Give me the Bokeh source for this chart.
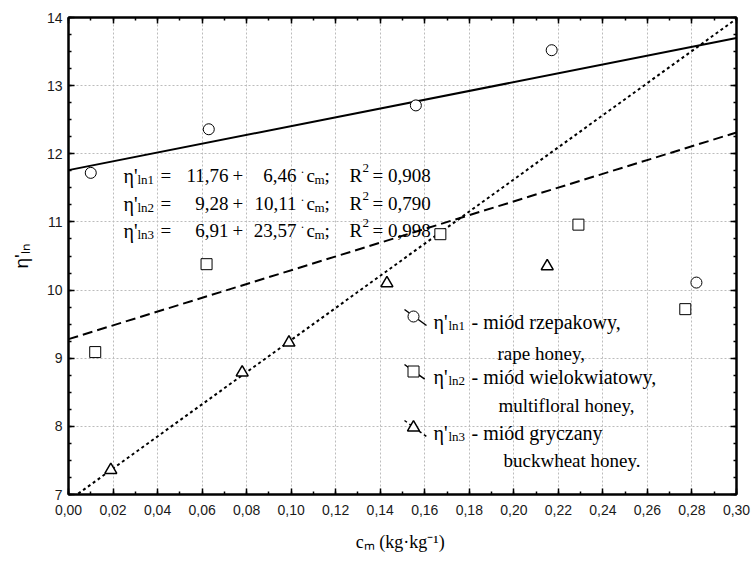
import numpy as np
from bokeh.plotting import figure
from bokeh.models import Label, FixedTicker, LinearAxis, Range1d
from bokeh.embed import file_html
from bokeh.resources import INLINE

# ---------------- data ----------------
x_ticks = [0.00, 0.02, 0.04, 0.06, 0.08, 0.10, 0.12, 0.14, 0.16, 0.18, 0.20, 0.22, 0.24, 0.26, 0.28, 0.30]
x_tick_labels = ["0,00", "0,02", "0,04", "0,06", "0,08", "0,10", "0,12", "0,14", "0,16", "0,18",
                 "0,20", "0,22", "0,24", "0,26", "0,28", "0,30"]
y_ticks = [7, 8, 9, 10, 11, 12, 13, 14]
y_tick_labels = ["7", "8", "9", "10", "11", "12", "13", "14"]

rape_x = [0.010, 0.063, 0.156, 0.217, 0.282]
rape_y = [11.72, 12.36, 12.71, 13.52, 10.11]
multi_x = [0.012, 0.062, 0.167, 0.229, 0.277]
multi_y = [9.09, 10.38, 10.82, 10.96, 9.72]
buck_x = [0.019, 0.078, 0.099, 0.143, 0.215]
buck_y = [7.36, 8.79, 9.23, 10.10, 10.35]

intercepts = [11.76, 9.28, 6.91]
slopes = [6.46, 10.11, 23.57]
r2_values = [0.908, 0.790, 0.998]

legend_pl = ["- miód rzepakowy,", "- miód wielokwiatowy,", "- miód gryczany"]
legend_en = ["rape honey,", "multifloral honey,", "buckwheat honey."]

x_title = "c\u2098  (kg\u00b7kg\u207b\u00b9)"
y_title = "\u03b7'\u2097\u2099"

# ---------------- layout ----------------
XMIN, XMAX, YMIN, YMAX = 0.0, 0.30, 7.0, 14.0
FL, FT, FW, FH = 68, 17, 668, 477
SERIF = "Liberation Serif"
SANS = "Liberation Sans"


def X(px):
    return (px - FL) / FW * (XMAX - XMIN) + XMIN


def Y(py):
    return YMAX - (py - FT) / FH * (YMAX - YMIN)


def fmt(v, d=2):
    return f"{v:.{d}f}".replace(".", ",")


p = figure(frame_width=FW, frame_height=FH,
           x_range=Range1d(XMIN, XMAX), y_range=Range1d(YMIN, YMAX),
           output_backend="svg", toolbar_location=None,
           min_border_left=FL, min_border_top=FT,
           min_border_right=753 - FL - FW, min_border_bottom=563 - FT - FH,
           background_fill_color=None, border_fill_color=None,
           x_axis_location=None, y_axis_location=None)
p.outline_line_color = "black"
p.outline_line_width = 2

x_minor = list(np.round(np.arange(0.0, 0.3001, 0.01), 3))
y_minor = list(np.round(np.arange(7.0, 14.001, 0.25), 3))
xt = FixedTicker(ticks=x_ticks, minor_ticks=x_minor)
yt = FixedTicker(ticks=y_ticks, minor_ticks=y_minor)

# default (hidden-axis) grids restyled to the reference look
p.xgrid.ticker = xt
p.ygrid.ticker = yt
for g in list(p.xgrid) + list(p.ygrid):
    g.grid_line_color = "#bcbcbc"
    g.grid_line_dash = "2 2"
    g.grid_line_width = 1


def style_axis(ax, show_labels):
    ax.axis_line_width = 2
    ax.axis_line_color = "black"
    ax.major_tick_in = 6
    ax.major_tick_out = 0
    ax.minor_tick_in = 3
    ax.minor_tick_out = 0
    ax.major_tick_line_width = 1.5
    ax.minor_tick_line_width = 1.5
    ax.major_tick_line_color = "black"
    ax.minor_tick_line_color = "black"
    if show_labels:
        ax.major_label_text_font = SANS
        ax.major_label_text_font_size = "14px"
        ax.major_label_text_color = "#1a1a1a"
    else:
        ax.major_label_text_font_size = "0px"


bottom = LinearAxis(ticker=xt, major_label_overrides={t: l for t, l in zip(x_ticks, x_tick_labels)})
style_axis(bottom, True)
bottom.major_label_standoff = 10
bottom.axis_label = x_title
bottom.axis_label_text_font = SERIF
bottom.axis_label_text_font_style = "normal"
bottom.axis_label_text_font_size = "18px"
bottom.axis_label_text_color = "black"
bottom.axis_label_standoff = 14
p.add_layout(bottom, "below")

left = LinearAxis(ticker=yt, major_label_overrides={t: l for t, l in zip(y_ticks, y_tick_labels)})
style_axis(left, True)
left.major_label_standoff = 6
left.axis_label = y_title
left.axis_label_text_font = SANS
left.axis_label_text_font_style = "normal"
left.axis_label_text_font_size = "19px"
left.axis_label_text_color = "black"
left.axis_label_standoff = 12
p.add_layout(left, "left")

top = LinearAxis(ticker=xt, major_label_overrides={t: "" for t in x_ticks})
style_axis(top, False)
top.major_label_standoff = 0
p.add_layout(top, "above")

right = LinearAxis(ticker=yt, major_label_overrides={t: "" for t in y_ticks})
style_axis(right, False)
right.major_label_standoff = 0
p.add_layout(right, "right")

# ---------------- regression lines ----------------
line_x = [XMIN, XMAX]
dashes = ["solid", "10 5", "3 3"]
for a, b, d in zip(intercepts, slopes, dashes):
    p.line(line_x, [a + b * xx for xx in line_x], line_color="black", line_width=2, line_dash=d)

# ---------------- points ----------------
p.scatter(rape_x, rape_y, marker="circle", size=11, fill_color="white", line_color="black", line_width=1)
p.scatter(multi_x, multi_y, marker="square", size=11, fill_color="white", line_color="black", line_width=1)
p.scatter(buck_x, buck_y, marker="triangle", size=12, fill_color="white", line_color="black", line_width=1.5)


def put(px, py, text, size, font=SERIF, align="left", angle=0.0):
    # positions given in pixels from the top-left of the page; converted to frame screen units
    p.add_layout(Label(x=px - FL, y=(FT + FH) - py, x_units="screen", y_units="screen",
                       text=text, text_font=font,
                       text_font_size=f"{size}px", text_align=align,
                       text_baseline="alphabetic", angle=angle, text_color="black"))


# ---------------- equations ----------------
eq_base = [175, 203, 230]
for i in range(3):
    b = eq_base[i]
    put(123, b, "η'", 20)
    put(137, b + 4, f"ln{i + 1}", 13)
    put(160, b, "=", 19)
    put(228, b, fmt(intercepts[i]), 19, align="right")
    put(232, b, "+", 19)
    put(296, b, fmt(slopes[i]), 19, align="right")
    put(300, b - 4, "·", 12)
    put(306, b, "c", 19)
    put(314, b + 4, "m", 13)
    put(324, b, ";", 19)
    put(349, b, "R", 19)
    put(362, b - 8, "2", 13)
    put(372, b, "= " + fmt(r2_values[i], 3), 19)

# ---------------- legend ----------------
leg_base = [321, 376, 432]
leg_base2 = [353, 405, 460]
leg_en_x = [497, 498, 503]
markers = ["circle", "square", "triangle"]
for i in range(3):
    b = leg_base[i]
    cy = b - 5
    p.line([X(404), X(426)], [Y(cy - 7), Y(cy + 9)], line_color="black", line_width=1.5, line_dash=dashes[i])
    p.scatter([X(413)], [Y(cy)], marker=markers[i], size=11 if i < 2 else 12,
              fill_color="white", line_color="black", line_width=1 if i < 2 else 1.5)
    put(433, b, "η'", 20)
    put(448, b + 4, f"ln{i + 1}", 13)
    put(471, b, legend_pl[i], 20)
    put(leg_en_x[i], leg_base2[i], legend_en[i], 19)

open("out.html", "w").write(file_html(p, INLINE))
